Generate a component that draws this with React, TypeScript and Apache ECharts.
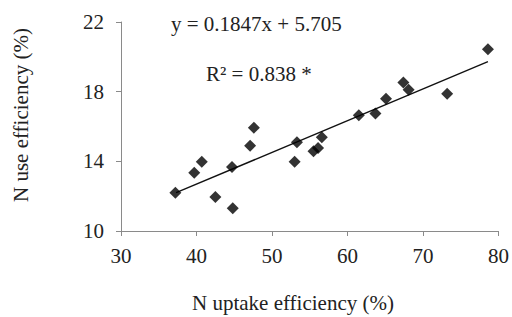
import React, { useEffect, useRef } from "react";
import * as echarts from "echarts";

const uptakeEfficiency = [37.2, 39.7, 40.7, 42.5, 44.7, 44.8, 47.1, 47.6, 53.0, 53.3, 55.5, 56.1, 56.6, 61.5, 63.7, 65.1, 67.4, 68.1, 73.2, 78.6];
const useEfficiency = [12.2, 13.35, 13.97, 11.95, 13.68, 11.3, 14.9, 15.93, 13.97, 15.1, 14.58, 14.77, 15.38, 16.65, 16.74, 17.6, 18.53, 18.11, 17.88, 20.44];
const trendX = [37.3, 78.6];
const trendY = [12.2, 19.72];
const equationText = "y = 0.1847x + 5.705";
const r2Text = "R² = 0.838 *";
const xTitle = "N uptake efficiency (%)";
const yTitle = "N use efficiency (%)";

export default function App() {
  const ref = useRef<HTMLDivElement>(null);
  useEffect(() => {
    if (!ref.current) return;
    const chart = echarts.init(ref.current, null, { renderer: "svg" });
    const font = "'Liberation Serif', 'Times New Roman', serif";
    const fs = 21;
    chart.setOption({
      animation: false,
      backgroundColor: "#ffffff",
      textStyle: { fontFamily: font },
      grid: { left: 121, right: 12, top: 22, height: 209 },
      xAxis: {
        type: "value",
        min: 30,
        max: 80,
        interval: 10,
        axisLine: { show: true, lineStyle: { color: "#8a8a8a", width: 1 } },
        axisTick: { show: true, inside: false, length: 5, lineStyle: { color: "#8a8a8a" } },
        axisLabel: { fontFamily: font, fontSize: fs, color: "#222", margin: 14 },
        splitLine: { show: false },
      },
      yAxis: {
        type: "value",
        min: 10,
        max: 22,
        interval: 4,
        axisLine: { show: true, lineStyle: { color: "#8a8a8a", width: 1 } },
        axisTick: { show: true, inside: false, length: 5, lineStyle: { color: "#8a8a8a" } },
        axisLabel: { fontFamily: font, fontSize: fs, color: "#222", margin: 17 },
        splitLine: { show: false },
      },
      graphic: [
        {
          type: "text",
          left: 171,
          top: 13,
          style: { text: equationText, fontFamily: font, fontSize: fs, fill: "#222" },
        },
        {
          type: "text",
          left: 206,
          top: 63,
          style: { text: r2Text, fontFamily: font, fontSize: fs, fill: "#222" },
        },
        {
          type: "text",
          x: 293,
          y: 303,
          style: { text: xTitle, fontFamily: font, fontSize: fs, fill: "#222", align: "center", verticalAlign: "middle" },
        },
        {
          type: "text",
          x: 21,
          y: 115,
          rotation: Math.PI / 2,
          style: { text: yTitle, fontFamily: font, fontSize: fs, fill: "#222", align: "center", verticalAlign: "middle" },
        },
      ],
      series: [
        {
          type: "line",
          data: trendX.map((x, i) => [x, trendY[i]]),
          showSymbol: false,
          symbol: "none",
          lineStyle: { color: "#111", width: 1.4 },
          z: 1,
        },
        {
          type: "scatter",
          data: uptakeEfficiency.map((x, i) => [x, useEfficiency[i]]),
          symbol: "diamond",
          symbolSize: 12,
          itemStyle: { color: "#000" },
          z: 2,
        },
      ],
    });
    return () => chart.dispose();
  }, []);
  return <div ref={ref} style={{ width: 512, height: 317, position: "absolute", left: 0, top: 0 }} />;
}
